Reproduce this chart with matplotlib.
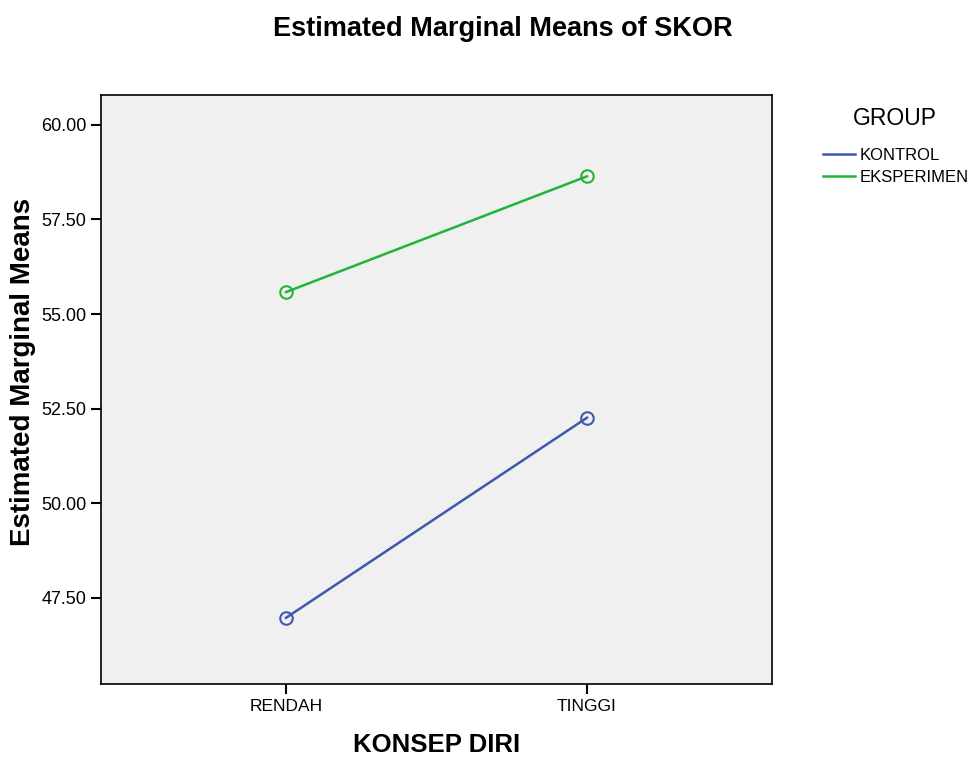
import numpy as np
import matplotlib.pyplot as plt

# Datos
kategori = ['RENDAH', 'TINGGI']
kontrol = [46.97, 52.26]
eksperimen = [55.58, 58.64]
yticks = [47.5, 50.0, 52.5, 55.0, 57.5, 60.0]

plt.rcParams['font.family'] = ['Liberation Sans', 'DejaVu Sans']

fig = plt.figure(figsize=(9.7, 7.58), dpi=100)
ax = fig.add_axes([0.104, 0.0976, 0.692, 0.7771])
ax.set_facecolor('#f0f0f0')

x = np.arange(len(kategori))
ax.plot(x, kontrol, color='#3e58ac', lw=1.8, marker='o', ms=9,
        mfc='none', mec='#3e58ac', mew=1.5, label='KONTROL')
ax.plot(x, eksperimen, color='#21b43a', lw=1.8, marker='o', ms=9,
        mfc='none', mec='#21b43a', mew=1.5, label='EKSPERIMEN')

ax.set_xlim(-0.615, 1.615)
ax.set_ylim(45.22, 60.79)
ax.set_xticks(x)
ax.set_xticklabels(kategori, fontsize=12.5)
ax.set_yticks(yticks)
ax.set_yticklabels([f'{v:.2f}' for v in yticks], fontsize=13)
ax.tick_params(direction='out', length=7, width=1.5, color='black')
for s in ax.spines.values():
    s.set_linewidth(1.2)

ax.set_xlabel('KONSEP DIRI', fontsize=18.5, fontweight='bold', labelpad=14)
ax.set_ylabel('Estimated Marginal Means', fontsize=20, fontweight='bold')
ax.yaxis.set_label_coords(-0.096, 0.53)
fig.text(0.518, 0.962, 'Estimated Marginal Means of SKOR', ha='center', va='center',
         fontsize=19.5, fontweight='bold')

# Leyenda
fig.text(0.9227, 0.8443, 'GROUP', ha='center', va='center', fontsize=16.5)
leg = fig.legend(loc='upper left', bbox_to_anchor=(0.8485, 0.8048), frameon=False,
                 fontsize=12, handlelength=1.9, handletextpad=0.3,
                 labelspacing=0.43, borderpad=0, borderaxespad=0)
for h in leg.legend_handles:
    h.set_marker('')

fig.savefig('out.png', dpi=100)
